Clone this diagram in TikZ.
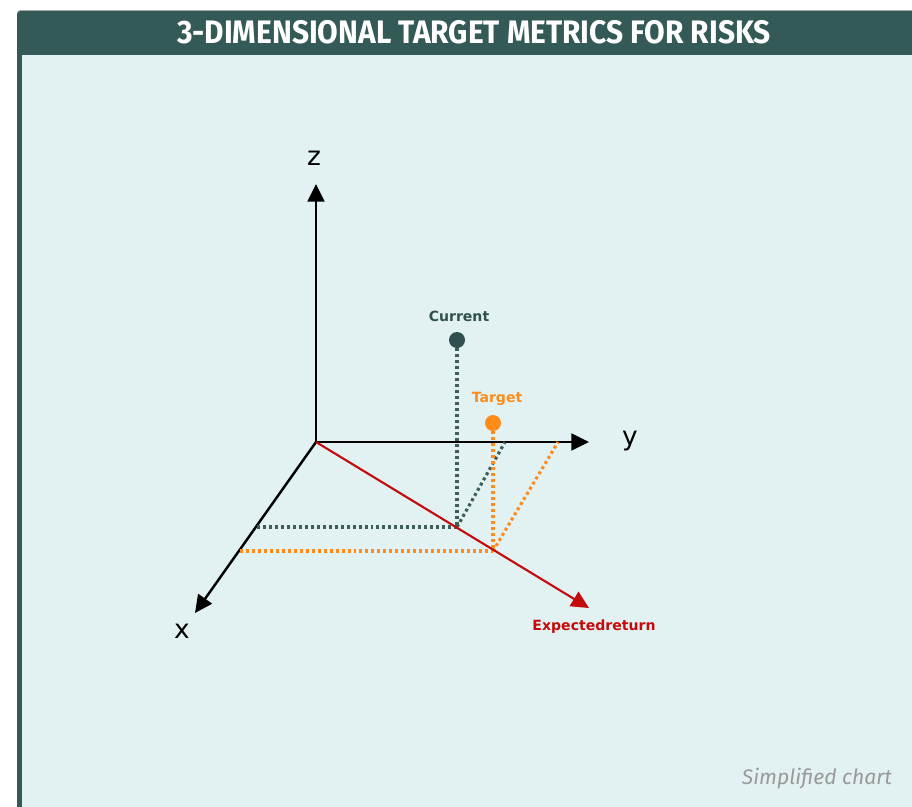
\documentclass[tikz,border=0pt]{standalone}
\usepackage{fontspec}
\setmainfont{DejaVu Sans}
\newfontfamily\titlefont[FakeStretch=0.92]{Fira Sans}
\newfontfamily\notefont{Fira Sans}
\usetikzlibrary{arrows.meta}

\definecolor{frame}{HTML}{335A56}
\definecolor{panel}{HTML}{E2F2F2}
\definecolor{curcol}{HTML}{2F504C}
\definecolor{curdot}{HTML}{3D5E5B}
\definecolor{tgtcol}{HTML}{FF8C1A}
\definecolor{retcol}{HTML}{C40A0A}

\begin{document}
\begin{tikzpicture}[x=0.02cm, y=-0.02cm,
    axis/.style={-{Triangle[length=10pt,width=9.5pt]}, line width=1.4pt, black},
    ret/.style={-{Triangle[length=10pt,width=9.5pt]}, line width=1.2pt, retcol},
    proj/.style={line width=1.8pt, dash pattern=on 1.7pt off 1.7pt},
    pt/.style={circle, minimum size=0.32cm, inner sep=0pt},
    axlab/.style={font=\fontsize{15}{15}\selectfont},
    ptlab/.style={font=\fontsize{8}{8}\selectfont\bfseries}
]
\useasboundingbox (0,0) rectangle (912,806);
% frame and panel
\fill[white] (0,0) rectangle (912,806);
\fill[gray!70, rounded corners=2pt] (17,10) rectangle (930,830);
\fill[frame, rounded corners=2pt] (17,11) rectangle (930,830);
\fill[panel] (22,55) rectangle (930,830);
\node[text=white, font=\titlefont\bfseries\fontsize{18.5}{18.5}\selectfont] (title) at (474,32) {3-DIMENSIONAL TARGET METRICS FOR RISKS};

% axes
\coordinate (O) at (316,442);
\coordinate (ztip) at (316,184);
\coordinate (ytip) at (589,442);
\coordinate (xtip) at (195,613);
\coordinate (rtip) at (589,608);
\draw[axis] (O) -- (ztip);
\draw[axis] (O) -- (ytip);
\draw[axis] (O) -- (xtip);
\node[axlab] (zlab) at (314,158) {z};
\node[axlab] (ylab) at (630,441) {y};
\node[axlab] (xlab) at (182,631) {x};

% projections
\coordinate (curfoot) at (457,527);
\coordinate (curx) at (257,527);
\coordinate (cury) at (505,442);
\coordinate (tgtfoot) at (493,551);
\coordinate (tgtx) at (240,551);
\coordinate (tgty) at (558,442);
\node[pt, fill=curcol] (cur) at (457,340) {};
\node[pt, fill=tgtcol] (tgt) at (493,423) {};
\draw[proj, curdot] (cur.south) -- (curfoot);
\draw[proj, curdot] (curx) -- (curfoot);
\draw[proj, curdot] (curfoot) -- (cury);
\draw[proj, tgtcol] (tgt.south) -- (tgtfoot);
\draw[proj, tgtcol] (tgtx) -- (tgtfoot);
\draw[proj, tgtcol] (tgtfoot) -- (tgty);
\draw[ret] (O) -- (rtip);

% labels
\node[ptlab, text=curcol] (curlab) at (459,316) {Current};
\node[ptlab, text=tgtcol] (tgtlab) at (497,399) {Target};
\node[ptlab, text=retcol] (retlab) at (594,627) {Expectedreturn};
\node[anchor=east, text=black!40, font=\notefont\itshape\fontsize{12}{12}\selectfont] (note) at (898,779) {Simplified chart};
\end{tikzpicture}
\end{document}
